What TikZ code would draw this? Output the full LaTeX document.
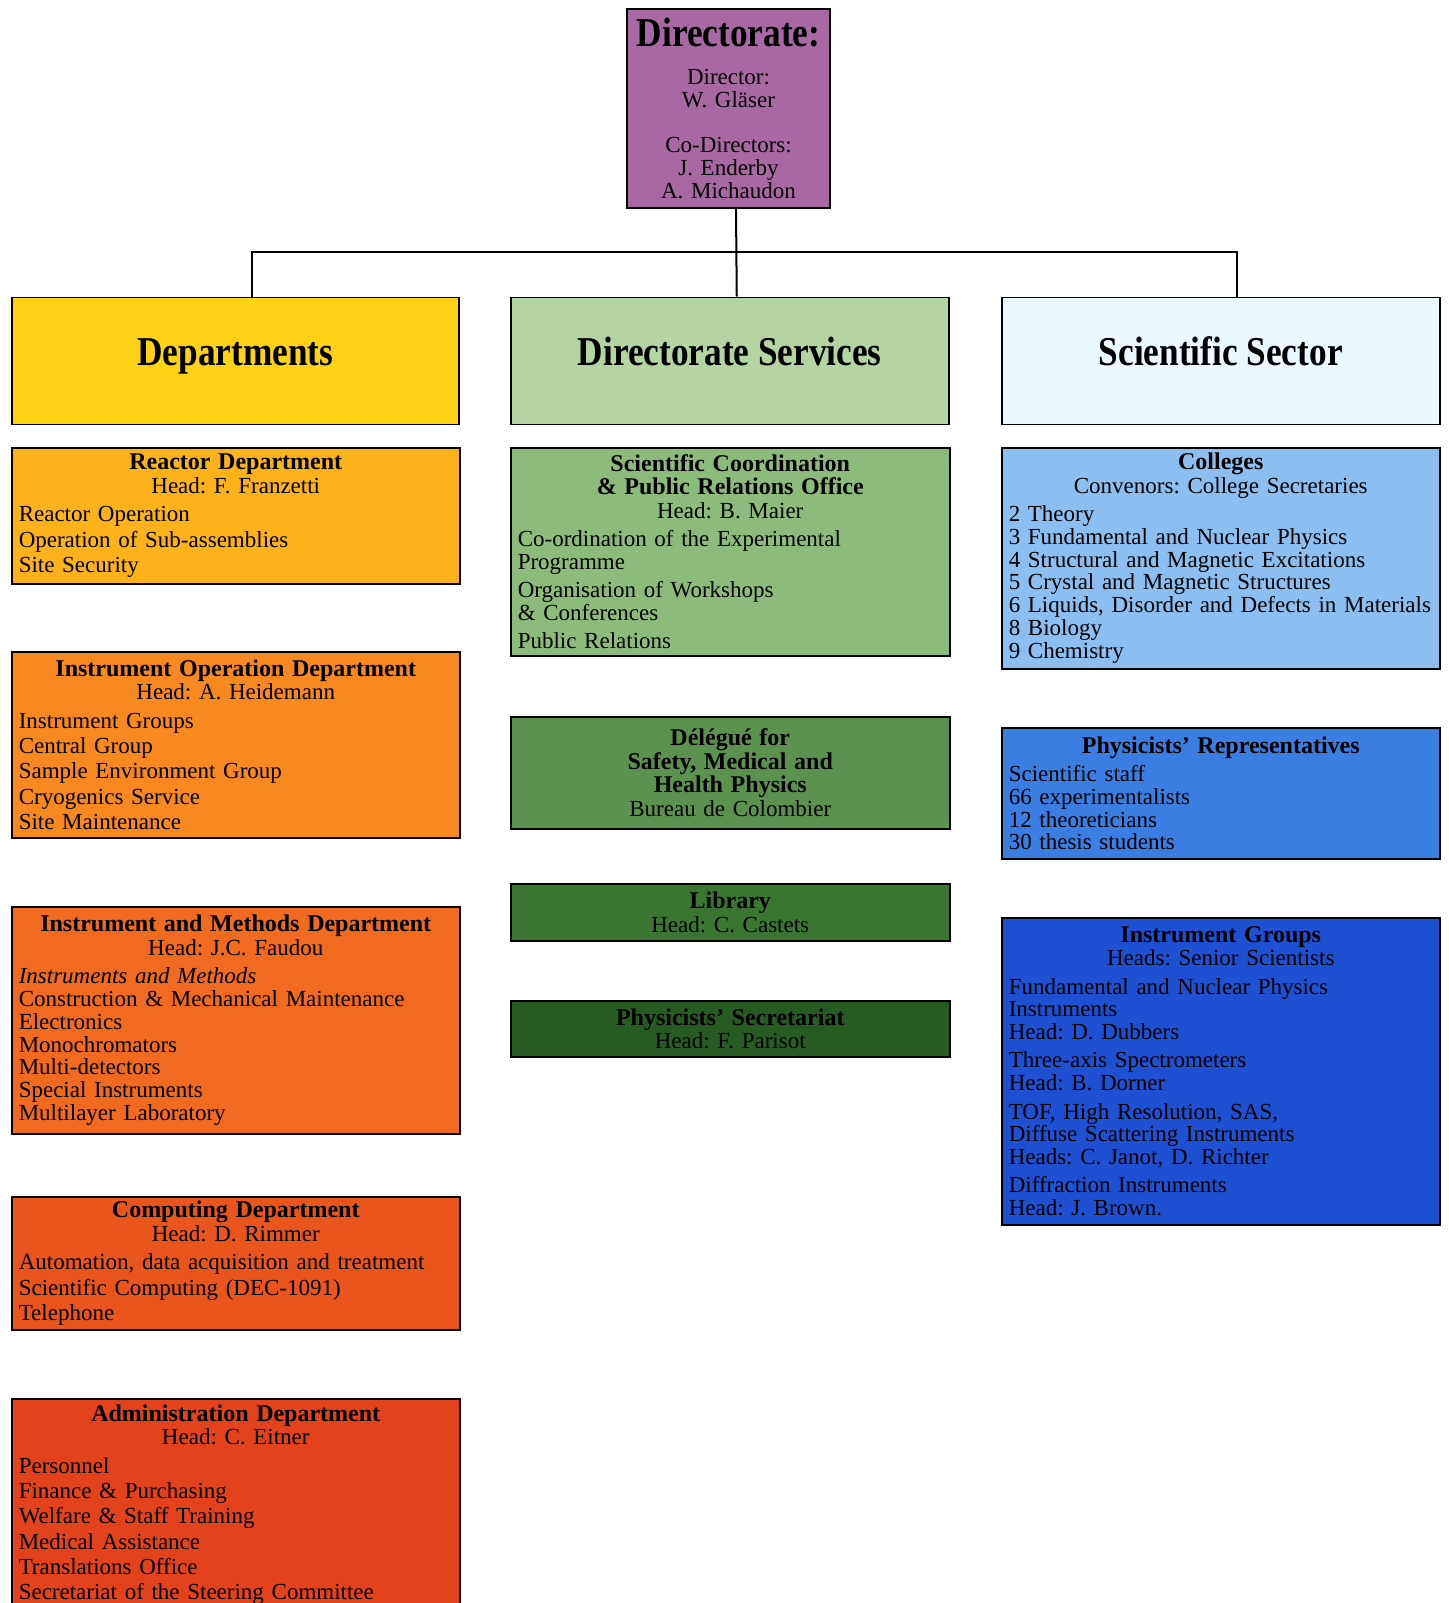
\documentclass[tikz,border=0pt]{standalone}
\usepackage{fontspec}
\setmainfont{Liberation Serif}
\newfontfamily\condfont[FakeStretch=0.86]{Liberation Serif}
\usetikzlibrary{positioning,calc}
\definecolor{dirc}{RGB}{168,104,164}
\definecolor{deptc}{RGB}{255,210,22}
\definecolor{servc}{RGB}{180,212,162}
\definecolor{scic}{RGB}{236,248,255}
\definecolor{reacc}{RGB}{252,178,26}
\definecolor{iopc}{RGB}{248,136,32}
\definecolor{imc}{RGB}{240,106,32}
\definecolor{compc}{RGB}{232,86,30}
\definecolor{admc}{RGB}{226,66,28}
\definecolor{scoc}{RGB}{140,188,124}
\definecolor{delc}{RGB}{92,146,80}
\definecolor{libc}{RGB}{58,118,50}
\definecolor{secc}{RGB}{38,92,34}
\definecolor{colc}{RGB}{140,190,240}
\definecolor{repc}{RGB}{58,126,226}
\definecolor{igc}{RGB}{30,80,210}
\setlength{\parindent}{0pt}
\frenchspacing
\hyphenpenalty=10000
\hbadness=10000
\newcommand{\hd}{\fontsize{24}{23.5}\bfseries\selectfont}
\newcommand{\hdsub}{\fontsize{23}{23.5}\mdseries\selectfont}
\newcommand{\titlefont}{\condfont\bfseries\fontsize{41}{44}\selectfont}
\newcommand{\gap}[1][5.5pt]{\par\vspace{#1}}
\tikzset{unit/.style={draw, line width=1.5pt, anchor=north west, inner xsep=7pt, inner ysep=0pt, font=\fontsize{23}{22.8}\selectfont},
  loose/.style={font=\fontsize{23}{25.3}\selectfont},
  lcol/.style={unit, minimum width=448pt, text width=434pt},
  mcol/.style={unit, minimum width=439pt, text width=425pt},
  rcol/.style={unit, minimum width=438pt, text width=424pt},
  head/.style={draw, line width=1.5pt, anchor=north west, minimum height=127pt, text height=30pt, text depth=20pt, font=\titlefont},
  link/.style={line width=2pt}}
\begin{document}
\begin{tikzpicture}[x=1pt,y=-1pt]
  \useasboundingbox (0,0) rectangle (1448,1603);
  \fill[white] (0,0) rectangle (1448,1603);
  % directorate
  \node[unit, anchor=center, fill=dirc, minimum width=203pt, minimum height=199pt, text width=191pt, inner xsep=6pt] (dir) at (728.5,108.5)
    {\centering{\titlefont Directorate:}\par\vspace{15pt}Director:\\W. Gläser\par\vspace{23pt}Co-Directors:\\J. Enderby\\A. Michaudon\par};
  % sectors
  \node[head, fill=deptc, minimum width=447pt] (depts) at (11,296.5) {Departments};
  \node[head, fill=servc, minimum width=438pt] (servs) at (510,296.5) {Directorate Services};
  \node[head, fill=scic, minimum width=438pt] (sci) at (1001,296.5) {Scientific Sector};
  \coordinate (bus) at (736,251.6);
  \draw[link] ([xshift=7.5pt]dir.south) -- ([xshift=7pt]servs.north);
  \draw[link] ([xshift=17pt]depts.north) |- (bus) -| ([xshift=16pt]sci.north);
  % departments
  \node[lcol, loose, fill=reacc, minimum height=136pt] (reac) at (11,447)
    {{\centering\hd Reactor Department\\\hdsub Head: F. Franzetti\par}\gap[3pt]
     Reactor Operation\\Operation of Sub-assemblies\\Site Security};
  \node[lcol, loose, fill=iopc, minimum height=186pt] (iop) at (11,651)
    {{\centering\hd Instrument Operation Department\\\hdsub Head: A. Heidemann\par}\gap[3pt]
     Instrument Groups\\Central Group\\Sample Environment Group\\Cryogenics Service\\Site Maintenance};
  \node[lcol, fill=imc, minimum height=227pt] (imd) at (11,906)
    {{\centering\hd Instrument and Methods Department\\\hdsub Head: J.C. Faudou\par}\gap
     \textit{Instruments and Methods}\\Construction \& Mechanical Maintenance\\Electronics\\Monochromators\\Multi-detectors\\Special Instruments\\Multilayer Laboratory};
  \node[lcol, loose, fill=compc, minimum height=133pt] (comp) at (11,1196)
    {{\centering\hd Computing Department\\\hdsub Head: D. Rimmer\par}\gap[3pt]
     Automation, data acquisition and treatment\\Scientific Computing (DEC-1091)\\Telephone};
  \node[lcol, loose, fill=admc, minimum height=212pt] (adm) at (11,1398)
    {{\centering\hd Administration Department\\\hdsub Head: C. Eitner\par}\gap[3pt]
     Personnel\\Finance \& Purchasing\\Welfare \& Staff Training\\Medical Assistance\\Translations Office\\Secretariat of the Steering Committee};
  % directorate services
  \node[mcol, fill=scoc, minimum height=208pt] (sco) at (510,447)
    {{\centering\hd Scientific Coordination\\\& Public Relations Office\\\hdsub Head: B. Maier\par}\gap
     Co-ordination of the Experimental\\Programme\gap
     Organisation of Workshops\\\& Conferences\gap
     Public Relations};
  \node[mcol, fill=delc, minimum height=112pt] (del) at (510,716)
    {{\centering\hd Délégué for\\Safety, Medical and\\Health Physics\\\hdsub Bureau de Colombier\par}};
  \node[mcol, fill=libc, minimum height=57pt] (lib) at (510,883)
    {{\centering\hd Library\\\hdsub Head: C. Castets\par}};
  \node[mcol, fill=secc, minimum height=56pt] (sec) at (510,1000)
    {{\centering\hd Physicists' Secretariat\\\hdsub Head: F. Parisot\par}};
  % scientific sector
  \node[rcol, fill=colc, minimum height=221pt] (col) at (1001,447)
    {{\centering\hd Colleges\\\hdsub Convenors: College Secretaries\par}\gap
     2 Theory\\3 Fundamental and Nuclear Physics\\4 Structural and Magnetic Excitations\\5 Crystal and Magnetic Structures\\6 Liquids, Disorder and Defects in Materials\\8 Biology\\9 Chemistry};
  \node[rcol, fill=repc, minimum height=131pt] (rep) at (1001,727)
    {{\centering\hd Physicists' Representatives\par}\gap
     Scientific staff\\66 experimentalists\\12 theoreticians\\30 thesis students};
  \node[rcol, fill=igc, minimum height=307pt] (igr) at (1001,917)
    {{\centering\hd Instrument Groups\\\hdsub Heads: Senior Scientists\par}\gap
     Fundamental and Nuclear Physics\\Instruments\\Head: D. Dubbers\gap
     Three-axis Spectrometers\\Head: B. Dorner\gap
     TOF, High Resolution, SAS,\\Diffuse Scattering Instruments\\Heads: C. Janot, D. Richter\gap
     Diffraction Instruments\\Head: J. Brown.};
\end{tikzpicture}
\end{document}
